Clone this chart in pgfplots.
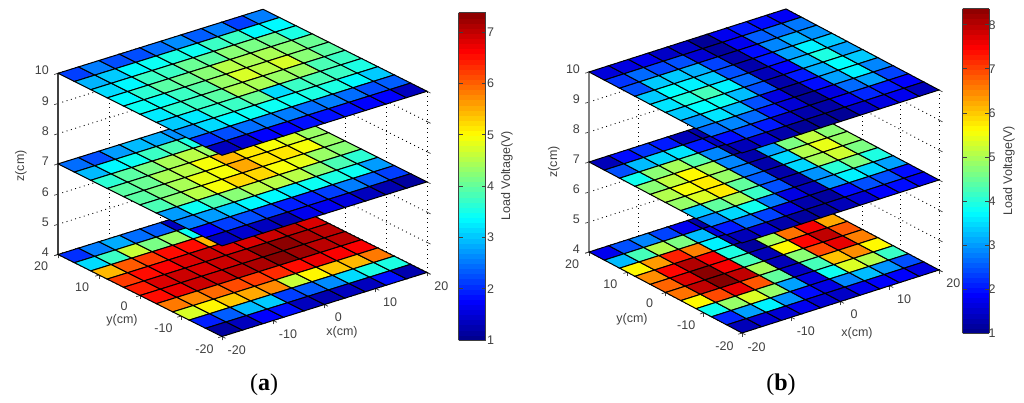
\documentclass[border=0pt]{standalone}
\usepackage{fontspec}
\setmainfont{Liberation Sans}
\newfontfamily\capfont{Liberation Serif}
\usepackage{pgfplots}
\usepackage{pgfplotstable}
\pgfplotsset{compat=1.18}
\definecolor{ax}{HTML}{404040}
\pgfplotsset{colormap={mjet}{rgb255(0)=(0,0,143) rgb255(7)=(0,0,255) rgb255(23)=(0,255,255) rgb255(39)=(255,255,0) rgb255(55)=(255,0,0) rgb255(63)=(128,0,0)}}

% cell colours in volts, one row per y from 20 down to -20, x from -20 to 20
\pgfplotstableset{row sep=\\, header=false}
\pgfplotstableread{
2.1\\2.5\\2.2\\2.2\\2.4\\2.6\\2.3\\2.5\\2.1\\2.5\\2.5\\
2.85\\3.0\\3.3\\3.4\\3.5\\3.4\\3.7\\3.7\\3.3\\3.3\\3.3\\
3.1\\3.3\\3.7\\3.7\\4.0\\3.9\\4.2\\4.1\\4.0\\3.5\\3.5\\
3.3\\3.6\\3.9\\4.0\\4.2\\4.5\\4.4\\4.4\\4.2\\4.0\\4.0\\
3.4\\3.4\\3.7\\3.9\\4.3\\4.7\\4.5\\4.7\\4.2\\3.9\\3.9\\
3.2\\3.6\\3.7\\3.9\\4.4\\4.4\\4.3\\4.3\\3.8\\3.7\\3.7\\
3.0\\3.2\\3.6\\3.7\\4.0\\3.1\\3.7\\3.8\\3.7\\3.5\\3.5\\
2.6\\3.1\\3.3\\3.4\\3.4\\3.4\\3.5\\3.5\\3.3\\3.0\\3.0\\
2.0\\2.2\\2.4\\2.5\\2.5\\2.4\\2.5\\2.4\\2.2\\2.3\\2.3\\
1.3\\1.4\\1.7\\1.7\\1.8\\1.8\\1.8\\1.7\\1.7\\1.3\\1.3\\
1.3\\1.4\\1.7\\1.7\\1.8\\1.8\\1.8\\1.7\\1.7\\1.3\\1.3\\
}\aTop
\pgfplotstableread{
2.4\\2.2\\2.7\\2.9\\2.8\\2.6\\2.5\\2.4\\2.4\\2.3\\2.3\\
2.9\\3.3\\3.4\\3.7\\3.8\\3.5\\3.6\\3.6\\3.4\\3.3\\3.3\\
3.6\\3.9\\4.1\\4.4\\4.5\\4.3\\4.4\\4.4\\4.2\\3.9\\3.9\\
3.9\\4.0\\4.4\\4.5\\4.9\\5.4\\5.1\\4.9\\4.7\\4.3\\4.3\\
3.9\\4.1\\4.4\\4.8\\4.9\\5.5\\5.1\\5.1\\4.9\\4.3\\4.3\\
3.8\\4.2\\4.5\\4.9\\5.2\\5.2\\4.9\\4.8\\4.3\\4.2\\4.2\\
2.7\\3.4\\3.8\\4.2\\4.5\\4.5\\4.5\\4.2\\3.8\\3.6\\3.6\\
2.5\\2.7\\3.0\\3.3\\3.3\\3.2\\3.4\\3.5\\3.4\\2.7\\2.7\\
1.7\\2.1\\2.2\\2.1\\1.9\\1.9\\2.1\\2.5\\2.3\\2.1\\2.1\\
1.3\\1.4\\1.3\\1.2\\1.6\\1.6\\1.5\\1.3\\1.2\\1.1\\1.1\\
1.3\\1.4\\1.3\\1.2\\1.6\\1.6\\1.5\\1.3\\1.2\\1.1\\1.1\\
}\aMid
\pgfplotstableread{
2.0\\2.5\\2.8\\2.4\\2.3\\1.3\\1.2\\1.2\\1.2\\1.2\\1.2\\
3.1\\3.7\\4.6\\4.1\\4.3\\3.4\\2.2\\2.0\\2.0\\2.0\\2.0\\
5.4\\6.0\\6.2\\6.5\\6.5\\5.4\\6.3\\6.6\\6.8\\6.8\\6.8\\
6.2\\6.5\\6.6\\6.8\\6.9\\6.8\\6.8\\6.9\\7.0\\6.8\\6.8\\
6.4\\6.8\\6.9\\6.8\\6.9\\7.0\\7.3\\7.3\\7.1\\7.0\\7.0\\
6.5\\6.7\\6.9\\6.9\\7.0\\7.1\\7.35\\7.2\\7.0\\7.0\\7.0\\
5.8\\5.7\\5.9\\6.1\\6.2\\6.3\\6.5\\6.7\\6.6\\6.6\\6.6\\
4.7\\5.0\\5.3\\5.5\\5.7\\4.6\\5.0\\5.3\\5.4\\5.8\\5.8\\
1.9\\2.3\\2.9\\3.0\\2.1\\2.3\\2.6\\3.1\\3.5\\3.5\\3.5\\
1.1\\1.3\\1.7\\1.8\\1.3\\1.2\\1.3\\1.3\\1.8\\1.2\\1.2\\
1.1\\1.3\\1.7\\1.8\\1.3\\1.2\\1.3\\1.3\\1.8\\1.2\\1.2\\
}\aBot
\pgfplotstableread{
1.55\\1.6\\1.7\\1.4\\1.4\\1.05\\1.7\\2.0\\1.9\\1.75\\1.75\\
2.2\\2.6\\2.3\\2.4\\1.5\\1.1\\1.7\\2.5\\2.6\\2.7\\2.7\\
2.4\\3.3\\3.3\\3.1\\2.3\\1.2\\1.9\\2.8\\3.1\\2.9\\2.9\\
3.3\\3.7\\3.6\\3.3\\2.4\\1.2\\2.0\\3.0\\3.6\\3.3\\3.3\\
3.5\\3.9\\4.2\\3.6\\2.6\\1.3\\1.8\\3.2\\3.9\\3.0\\3.0\\
3.3\\3.7\\3.8\\3.2\\2.4\\1.2\\2.0\\3.1\\3.7\\3.3\\3.3\\
2.9\\3.5\\3.2\\2.4\\1.6\\1.05\\1.9\\3.0\\3.6\\2.8\\2.8\\
2.6\\2.8\\2.6\\2.0\\1.5\\1.05\\1.6\\2.6\\3.0\\2.3\\2.3\\
1.9\\2.3\\2.0\\1.4\\1.2\\1.15\\1.7\\2.1\\2.0\\1.8\\1.8\\
1.3\\1.5\\1.2\\1.05\\1.05\\1.05\\1.4\\1.6\\1.7\\1.3\\1.3\\
1.3\\1.5\\1.2\\1.05\\1.05\\1.05\\1.4\\1.6\\1.7\\1.3\\1.3\\
}\bTop
\pgfplotstableread{
1.3\\1.9\\2.2\\2.0\\1.3\\1.2\\1.7\\2.0\\2.0\\1.9\\1.9\\
2.4\\3.2\\3.4\\3.5\\2.0\\1.4\\1.6\\2.6\\2.8\\3.0\\3.0\\
3.8\\4.7\\4.9\\4.3\\2.8\\1.1\\1.9\\3.0\\3.4\\3.5\\3.5\\
4.7\\5.1\\5.6\\4.9\\2.8\\1.2\\3.0\\4.6\\5.1\\4.7\\4.7\\
5.0\\5.5\\5.7\\4.8\\2.7\\1.2\\3.4\\5.0\\5.4\\4.8\\4.8\\
4.8\\5.3\\5.7\\4.4\\2.5\\1.2\\3.4\\4.9\\5.2\\4.6\\4.6\\
3.3\\4.4\\4.9\\4.1\\2.4\\1.2\\2.9\\4.0\\4.6\\3.9\\3.9\\
2.8\\3.4\\3.8\\2.7\\1.6\\1.3\\2.9\\3.6\\3.4\\3.0\\3.0\\
2.0\\2.6\\2.3\\1.6\\1.2\\1.1\\1.9\\2.4\\2.4\\1.9\\1.9\\
1.3\\1.5\\1.2\\1.1\\1.1\\1.3\\1.5\\1.8\\1.9\\1.7\\1.7\\
1.3\\1.5\\1.2\\1.1\\1.1\\1.3\\1.5\\1.8\\1.9\\1.7\\1.7\\
}\bMid
\pgfplotstableread{
1.7\\2.4\\2.8\\2.3\\1.7\\1.2\\1.2\\1.2\\1.2\\1.2\\1.2\\
3.2\\4.2\\5.0\\4.6\\3.2\\1.6\\1.2\\1.2\\1.2\\1.2\\1.2\\
5.6\\6.3\\7.2\\6.5\\3.6\\1.3\\1.2\\4.0\\6.0\\6.0\\6.0\\
6.4\\7.4\\8.0\\7.5\\3.9\\1.1\\4.9\\6.6\\7.5\\6.2\\6.2\\
6.7\\7.7\\8.3\\7.5\\4.2\\1.3\\5.6\\7.4\\7.9\\6.8\\6.8\\
6.6\\7.9\\8.35\\7.9\\4.9\\1.3\\4.7\\6.9\\7.6\\6.5\\6.5\\
5.6\\6.9\\7.6\\6.8\\4.4\\1.4\\4.2\\6.0\\6.4\\5.6\\5.6\\
3.8\\4.8\\5.3\\4.8\\3.0\\1.6\\3.8\\5.3\\5.0\\4.1\\4.1\\
2.1\\3.0\\3.6\\2.9\\1.9\\1.6\\2.8\\3.2\\2.9\\2.4\\2.4\\
1.3\\1.5\\1.5\\1.7\\1.5\\1.4\\1.7\\1.8\\1.8\\1.6\\1.6\\
1.3\\1.5\\1.5\\1.7\\1.5\\1.4\\1.7\\1.8\\1.8\\1.6\\1.6\\
}\bBot

\pgfplotsset{
  box3d/.style={
    anchor=origin, clip=false,
    xmin=-20, xmax=20, ymin=-20, ymax=20, zmin=4, zmax=10,
    xtick={-20,-10,0,10,20}, ytick={-20,-10,0,10,20}, ztick={4,5,6,7,8,9,10},
    grid=major, major grid style={black, dash pattern=on 0.9pt off 3.6pt, line width=0.9pt},
    axis line style={draw=none},
    tick pos=left,
    tick align=outside, major tick length=4pt,
    tick style={ax, line width=0.7pt},
    ticklabel style={font=\fontsize{12.5}{14}\selectfont, text=ax},
    xticklabel style={xshift=5pt, yshift=-2pt},
    yticklabel style={xshift=-6pt, yshift=-1pt},
    zticklabel style={xshift=-2pt},
    /pgf/number format/assume math mode=true,
    colormap name=mjet,
  },
  plane/.style={surf, shader=flat corner, draw=black, faceted color=black, line width=1pt, mesh/rows=11, z buffer=none, point meta=explicit},
  table/grid11/.style={x index=0, y index=0, z index=0, x expr={-20+4*mod(\coordindex,11)}, y expr={20-4*floor(\coordindex/11)}, z expr=#1, meta index=0},
  cbar/.style={
    colormap name=mjet,
    colorbar sampled={surf, shader=flat corner, samples=65},
  },
}

\begin{document}
\begin{tikzpicture}[x=1pt,y=1pt]
\useasboundingbox (0,0) rectangle (1024,403);

\begin{axis}[box3d, at={(242.5pt,139.5pt)}, x={(5.125pt,1.6pt)}, y={(-4.1pt,2.05pt)}, z={(0pt,30.2pt)},
  point meta min=1, point meta max=7.38]
\addplot3[ax, line width=1.3pt] coordinates {(-20,20,4) (-20,20,10)};
\addplot3[plane] table[grid11=4] {\aBot};
\addplot3[plane] table[grid11=7] {\aMid};
\addplot3[plane] table[grid11=10] {\aTop};
\end{axis}

\begin{axis}[box3d, at={(764pt,142pt)}, x={(4.925pt,1.575pt)}, y={(-3.825pt,2.025pt)}, z={(0pt,30pt)},
  point meta min=1, point meta max=8.37]
\addplot3[gray, line width=1.7pt] coordinates {(-20,20,4) (-20,20,10)};
\addplot3[plane] table[grid11=4] {\bBot};
\addplot3[plane] table[grid11=7] {\bMid};
\addplot3[plane] table[grid11=10] {\bTop};
\end{axis}

\pgfplotscolorbardrawstandalone[cbar, point meta min=1, point meta max=7.38,
  colorbar style={at={(450pt,63pt)}, anchor=south west, width=27pt, height=327.3pt,
    ytick={1,2,3,4,5,6,7}, tick align=inside, major tick length=4pt, ytick pos=both,
    tick style={ax, line width=0.7pt}, axis line style={ax, line width=0.8pt},
    yticklabel style={font=\fontsize{12.5}{14}\selectfont, text=ax, xshift=-2pt},
    /pgf/number format/assume math mode=true}]
\pgfplotscolorbardrawstandalone[cbar, point meta min=1, point meta max=8.37,
  colorbar style={at={(954pt,70pt)}, anchor=south west, width=26.5pt, height=324.5pt,
    ytick={1,2,3,4,5,6,7,8}, tick align=inside, major tick length=4pt, ytick pos=both,
    tick style={ax, line width=0.7pt}, axis line style={ax, line width=0.8pt},
    yticklabel style={font=\fontsize{12.5}{14}\selectfont, text=ax, xshift=-2pt},
    /pgf/number format/assume math mode=true}]

\begin{scope}[every node/.style={text=ax, font=\fontsize{12.5}{14}\selectfont, inner sep=0pt}]
\node at (342,71) {x(cm)};
\node at (122,83) {y(cm)};
\node[rotate=90] at (21,237) {z(cm)};
\node[rotate=90] at (507,227) {Load Voltage(V)};
\node at (857,70) {x(cm)};
\node at (632,84) {y(cm)};
\node[rotate=90] at (554,241) {z(cm)};
\node[rotate=90] at (1009,232) {Load Voltage(V)};
\end{scope}
\node[font=\fontsize{24}{28}\selectfont\capfont, inner sep=0pt] at (264,18) {(\textbf{a})};
\node[font=\fontsize{24}{28}\selectfont\capfont, inner sep=0pt] at (781,18) {(\textbf{b})};
\end{tikzpicture}
\end{document}
